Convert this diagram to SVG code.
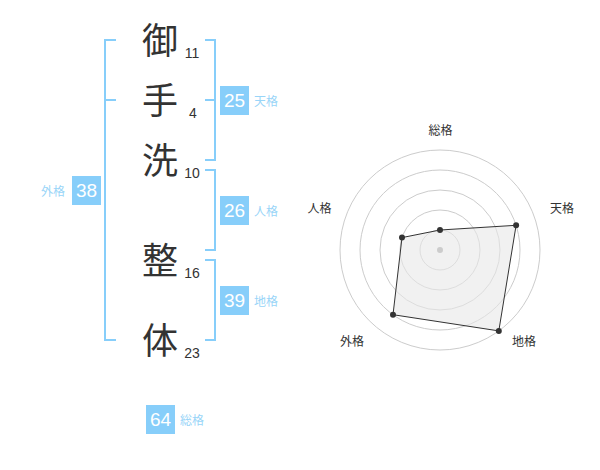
<svg xmlns="http://www.w3.org/2000/svg" width="600" height="470" viewBox="0 0 600 470">
<style>
.k{font-family:"Noto Sans CJK JP","Noto Sans CJK SC",sans-serif;font-size:36px;fill:#333;text-anchor:middle}
.n{font-family:"Liberation Sans",Arial,sans-serif;font-size:14px;fill:#333;text-anchor:middle}
.br{fill:none;stroke:#87cefa;stroke-width:2}
.box{fill:#87cefa}
.bv{font-family:"Liberation Sans",Arial,sans-serif;font-size:19px;fill:#fff;text-anchor:middle}
.bl{font-family:"Liberation Sans","Noto Sans CJK JP",sans-serif;font-size:12px;fill:#99d5f8}
.ring{fill:none;stroke:#cccccc;stroke-width:1}
.rl{font-family:"Liberation Sans","Noto Sans CJK JP",sans-serif;font-size:12px;fill:#333;text-anchor:middle}
.pt{fill:#333}
</style>
<g id="connectors">
<path class="br" d="M116,40 H105 V340 H116 M105,100 H116"/>
<path class="br" d="M205,40 H215 V160 H205 M205,100 H215"/>
<path class="br" d="M205,170 H215 V250 H205"/>
<path class="br" d="M205,260 H215 V340 H205"/>
</g>
<g id="char1"><text class="k" x="160" y="53.5">御</text><text class="n" x="192" y="57.5">11</text></g>
<g id="char2"><text class="k" x="160" y="113.5">手</text><text class="n" x="193" y="117.5">4</text></g>
<g id="char3"><text class="k" x="160" y="173.5">洗</text><text class="n" x="192" y="177.5">10</text></g>
<g id="char4"><text class="k" x="160" y="273.5">整</text><text class="n" x="192" y="277.5">16</text></g>
<g id="char5"><text class="k" x="160" y="353.5">体</text><text class="n" x="192" y="357.5">23</text></g>
<g id="tenkaku"><rect class="box" x="220" y="86" width="29" height="29"/><text class="bv" x="234.5" y="107">25</text><text class="bl" x="254" y="105.5">天格</text></g>
<g id="jinkaku"><rect class="box" x="220" y="196" width="29" height="29"/><text class="bv" x="234.5" y="217">26</text><text class="bl" x="254" y="215.5">人格</text></g>
<g id="chikaku"><rect class="box" x="220" y="286" width="29" height="29"/><text class="bv" x="234.5" y="307">39</text><text class="bl" x="254" y="305.5">地格</text></g>
<g id="gaikaku"><rect class="box" x="72" y="176" width="29" height="29"/><text class="bv" x="86.5" y="197">38</text><text class="bl" x="41" y="195.5">外格</text></g>
<g id="soukaku"><rect class="box" x="146" y="405" width="29" height="29"/><text class="bv" x="160.5" y="426">64</text><text class="bl" x="180" y="424.5">総格</text></g>
<g id="radar">
<circle class="ring" cx="440" cy="250" r="20"/>
<circle class="ring" cx="440" cy="250" r="40"/>
<circle class="ring" cx="440" cy="250" r="60"/>
<circle class="ring" cx="440" cy="250" r="80"/>
<circle class="ring" cx="440" cy="250" r="100"/>
<polygon points="440,230 516.1,225.3 498.8,330.9 393,314.7 402,237.6" fill="#e8e8e8" fill-opacity="0.6" stroke="#333" stroke-width="1"/>
<circle cx="440" cy="250" r="3" fill="#cccccc"/>
<circle class="pt" cx="440" cy="230" r="3"/>
<circle class="pt" cx="516.1" cy="225.3" r="3"/>
<circle class="pt" cx="498.8" cy="330.9" r="3"/>
<circle class="pt" cx="393" cy="314.7" r="3"/>
<circle class="pt" cx="402" cy="237.6" r="3"/>
<text class="rl" x="440.5" y="135">総格</text>
<text class="rl" x="562" y="213">天格</text>
<text class="rl" x="524" y="346">地格</text>
<text class="rl" x="352" y="346">外格</text>
<text class="rl" x="319.5" y="213">人格</text>
</g>
</svg>
